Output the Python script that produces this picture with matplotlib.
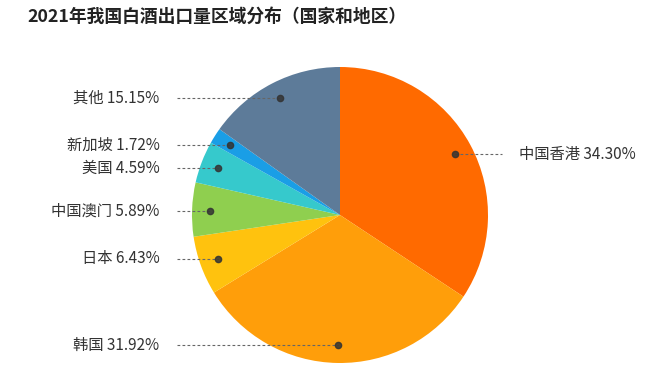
import numpy as np
import matplotlib
matplotlib.use("Agg")
from matplotlib import pyplot as plt

plt.rcParams['font.family'] = ['Noto Sans CJK SC', 'DejaVu Sans']

regions = ["中国香港", "韩国", "日本", "中国澳门", "美国", "新加坡", "其他"]
shares = [34.30, 31.92, 6.43, 5.89, 4.59, 1.72, 15.15]
colors = ["#FF6A00", "#FF9E0A", "#FFC20E", "#8FCF4F", "#36C9CC", "#1A9EE6", "#5D7B99"]
# label rows (pixel y from top of image) -- labels are spread so they don't collide
label_rows = [154, 345, 259, 211, 168, 145, 98]

W, H = 669, 385
cx, cy, R = 340, 215, 148

fig = plt.figure(figsize=(W / 100, H / 100), dpi=100)
ax = fig.add_axes([0, 0, 1, 1])

wedges, _ = ax.pie(shares, colors=colors, startangle=90, counterclock=False,
                   radius=1, wedgeprops=dict(linewidth=0))

ax.set_xlim(-cx / R, (W - cx) / R)
ax.set_ylim(-(H - cy) / R, cy / R)
ax.set_aspect("equal")
ax.axis("off")

for w, name, val, row in zip(wedges, regions, shares, label_rows):
    mid = np.deg2rad((w.theta1 + w.theta2) / 2)
    dx, dy = 0.88 * np.cos(mid), 0.88 * np.sin(mid)
    ly = (cy - row) / R
    txt = "%s %.2f%%" % (name, val)
    if dx > 0:
        ax.plot([dx, 1.095], [ly, ly], color="#666666", lw=0.8, ls=(0, (2.5, 2)))
        ax.text(1.21, ly, txt, ha="left", va="center", fontsize=11, color="#333333")
    else:
        ax.plot([-1.10, dx], [ly, ly], color="#666666", lw=0.8, ls=(0, (2.5, 2)))
        ax.text(-1.22, ly, txt, ha="right", va="center", fontsize=11, color="#333333")
    ax.plot(dx, ly, "o", color="#333333", ms=4.5, alpha=0.85)

fig.text(27 / W, 1 - 17 / H, "2021年我国白酒出口量区域分布（国家和地区）",
         ha="left", va="center", fontsize=12.8, fontweight="bold", color="#222222")

fig.savefig("out.png", dpi=100)
